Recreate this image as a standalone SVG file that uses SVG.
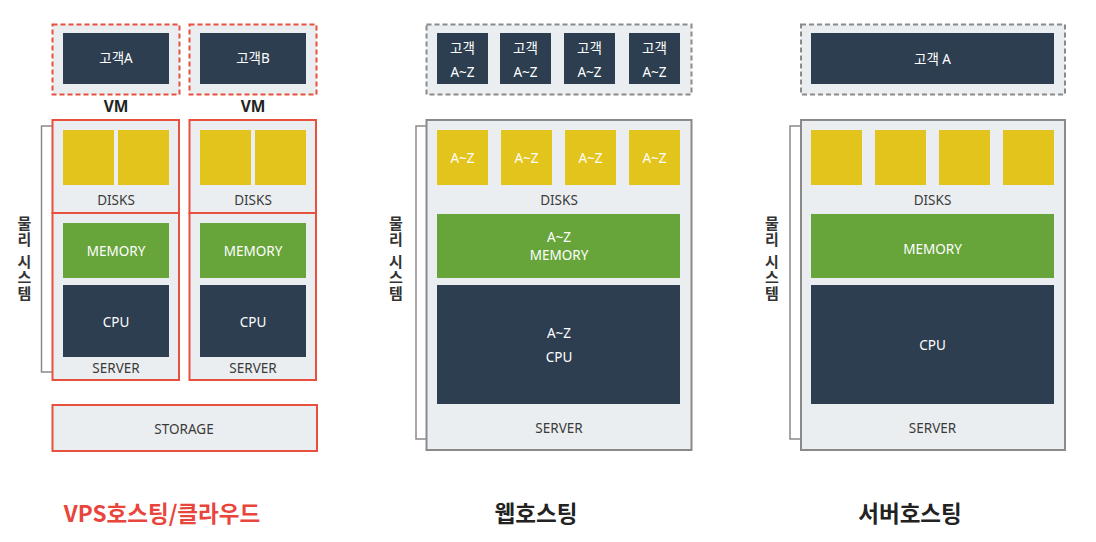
<svg xmlns="http://www.w3.org/2000/svg" width="1096" height="542" viewBox="0 0 1096 542">
<style>
text{font-family:"Noto Sans","Noto Sans CJK KR",sans-serif;text-anchor:middle}
.bg{fill:#ffffff}
.dred{fill:#ebeef0;stroke:#e8503e;stroke-width:2;stroke-dasharray:5,3}
.dgray{fill:#ebeef0;stroke:#8a8a8a;stroke-width:2;stroke-dasharray:5,3}
.sred{fill:#ebeef0;stroke:#e8503e;stroke-width:2}
.sgray{fill:#ebeef0;stroke:#8a8a8a;stroke-width:2}
.navy{fill:#2d3e50}
.yel{fill:#e2c41c}
.grn{fill:#67a53b}
.w{fill:#ffffff;font-size:13.5px}
.k{fill:#3a3a3a;font-size:13.5px}
.vm{fill:#222;font-size:15.5px;font-weight:bold}
.vt{fill:#333;font-size:15px;font-weight:bold;font-family:"Noto Sans CJK KR",sans-serif;writing-mode:vertical-rl;text-orientation:upright;text-anchor:start;letter-spacing:1px}
.br{fill:none;stroke:#8a8a8a;stroke-width:1.5}
.ttl{font-size:22.5px;font-weight:bold;font-family:"Noto Sans CJK KR",sans-serif}
</style>
<rect class="bg" x="0" y="0" width="1096" height="542"/>

<g id="connectors">
<polyline class="br" points="52,126 41.5,126 41.5,372 52,372"/>
<polyline class="br" points="426,126 416,126 416,439 426,439"/>
<polyline class="br" points="801,126 790,126 790,439 801,439"/>
</g>

<!-- VPS / Cloud -->
<g id="vps-vm-a">
<rect class="dred" x="52.5" y="24.5" width="127" height="70"/>
<rect class="navy" x="63" y="33" width="106" height="51"/>
<text class="w" x="116" y="63">고객A</text>
</g>
<g id="vps-vm-b">
<rect class="dred" x="189.5" y="24.5" width="127" height="70"/>
<rect class="navy" x="200" y="33" width="106" height="51"/>
<text class="w" x="253" y="63">고객B</text>
</g>
<text class="vm" x="116" y="112">VM</text>
<text class="vm" x="253" y="112">VM</text>
<g id="vps-server-a">
<rect class="sred" x="52.5" y="120" width="126.5" height="93"/>
<rect class="sred" x="52.5" y="213" width="126.5" height="167"/>
<rect class="yel" x="63" y="130" width="51" height="55"/>
<rect class="yel" x="118" y="130" width="51" height="55"/>
<text class="k" x="116" y="205">DISKS</text>
<rect class="grn" x="63" y="223" width="106" height="55"/>
<text class="w" x="116" y="256">MEMORY</text>
<rect class="navy" x="63" y="285" width="106" height="72"/>
<text class="w" x="116" y="327">CPU</text>
<text class="k" x="116" y="373">SERVER</text>
</g>
<g id="vps-server-b">
<rect class="sred" x="189.5" y="120" width="126.5" height="93"/>
<rect class="sred" x="189.5" y="213" width="126.5" height="167"/>
<rect class="yel" x="200" y="130" width="51" height="55"/>
<rect class="yel" x="255" y="130" width="51" height="55"/>
<text class="k" x="253" y="205">DISKS</text>
<rect class="grn" x="200" y="223" width="106" height="55"/>
<text class="w" x="253" y="256">MEMORY</text>
<rect class="navy" x="200" y="285" width="106" height="72"/>
<text class="w" x="253" y="327">CPU</text>
<text class="k" x="253" y="373">SERVER</text>
</g>
<g id="vps-storage">
<rect class="sred" x="52.5" y="405" width="264.5" height="46"/>
<text class="k" x="184" y="434">STORAGE</text>
</g>
<g id="vps-label">
<text class="vt" x="24.5" y="216">물리</text>
<text class="vt" x="24.5" y="254">시스템</text>
</g>
<text class="ttl" x="162" y="522" fill="#e8453c">VPS호스팅/클라우드</text>

<!-- Web hosting -->
<g id="web-clients">
<rect class="dgray" x="426.5" y="24.5" width="265" height="70"/>
<rect class="navy" x="437" y="33" width="51" height="51"/>
<rect class="navy" x="500" y="33" width="51" height="51"/>
<rect class="navy" x="564" y="33" width="51" height="51"/>
<rect class="navy" x="629" y="33" width="51" height="51"/>
<text class="w" x="462.5" y="53">고객</text><text class="w" x="462.5" y="77">A~Z</text>
<text class="w" x="525.5" y="53">고객</text><text class="w" x="525.5" y="77">A~Z</text>
<text class="w" x="589.5" y="53">고객</text><text class="w" x="589.5" y="77">A~Z</text>
<text class="w" x="654.5" y="53">고객</text><text class="w" x="654.5" y="77">A~Z</text>
</g>
<g id="web-server">
<rect class="sgray" x="426.5" y="120" width="265" height="330"/>
<rect class="yel" x="437" y="130" width="51" height="55"/>
<rect class="yel" x="501" y="130" width="51" height="55"/>
<rect class="yel" x="565" y="130" width="51" height="55"/>
<rect class="yel" x="629" y="130" width="51" height="55"/>
<text class="w" x="462.5" y="163">A~Z</text>
<text class="w" x="526.5" y="163">A~Z</text>
<text class="w" x="590.5" y="163">A~Z</text>
<text class="w" x="654.5" y="163">A~Z</text>
<text class="k" x="559" y="205">DISKS</text>
<rect class="grn" x="437" y="214" width="243" height="64"/>
<text class="w" x="559" y="242">A~Z</text>
<text class="w" x="559" y="260">MEMORY</text>
<rect class="navy" x="437" y="285" width="243" height="119"/>
<text class="w" x="559" y="338">A~Z</text>
<text class="w" x="559" y="362">CPU</text>
<text class="k" x="559" y="433">SERVER</text>
</g>
<g id="web-label">
<text class="vt" x="396" y="216">물리</text>
<text class="vt" x="396" y="254">시스템</text>
</g>
<text class="ttl" x="536" y="522" fill="#222">웹호스팅</text>

<!-- Server hosting -->
<g id="srv-client">
<rect class="dgray" x="801" y="24.5" width="264" height="70"/>
<rect class="navy" x="811" y="33" width="243" height="51"/>
<text class="w" x="932.5" y="64">고객 A</text>
</g>
<g id="srv-server">
<rect class="sgray" x="801" y="120" width="264" height="330"/>
<rect class="yel" x="811" y="130" width="51" height="55"/>
<rect class="yel" x="875" y="130" width="51" height="55"/>
<rect class="yel" x="939" y="130" width="51" height="55"/>
<rect class="yel" x="1003" y="130" width="51" height="55"/>
<text class="k" x="932.5" y="205">DISKS</text>
<rect class="grn" x="811" y="214" width="243" height="64"/>
<text class="w" x="932.5" y="254">MEMORY</text>
<rect class="navy" x="811" y="285" width="243" height="119"/>
<text class="w" x="932.5" y="350">CPU</text>
<text class="k" x="932.5" y="433">SERVER</text>
</g>
<g id="srv-label">
<text class="vt" x="772" y="216">물리</text>
<text class="vt" x="772" y="254">시스템</text>
</g>
<text class="ttl" x="910" y="522" fill="#222">서버호스팅</text>
</svg>
